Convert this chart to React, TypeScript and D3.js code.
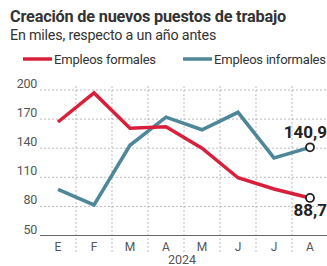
import React, { useEffect, useRef } from "react";
import * as d3 from "d3";

const months = ["E", "F", "M", "A", "M", "J", "J", "A"];
const formales = [167, 197, 160.5, 162, 140, 109.5, 98, 88.7];
const informales = [97.5, 81.5, 143, 172, 159, 177, 130, 140.9];
const yTicks = [50, 80, 110, 140, 170, 200];
const lastLabels = ["88,7", "140,9"];

const RED = "#d8203d";
const BLUE = "#4f8799";
const TEXT = "#333";

const App = () => {
  const ref = useRef<SVGSVGElement>(null);

  useEffect(() => {
    const width = 327;
    const svg = d3.select(ref.current);
    svg.selectAll("*").remove();

    const font = "Roboto, 'Noto Sans', sans-serif";

    // Title and subtitle
    svg
      .append("text")
      .attr("x", 10)
      .attr("y", 22)
      .attr("font-family", font)
      .attr("font-weight", 700)
      .attr("font-size", 16.3)
      .attr("fill", TEXT)
      .attr("letter-spacing", -0.2)
      .text("Creación de nuevos puestos de trabajo");

    svg
      .append("text")
      .attr("x", 10)
      .attr("y", 40)
      .attr("font-family", font)
      .attr("font-size", 14.3)
      .attr("fill", TEXT)
      .attr("letter-spacing", -0.2)
      .text("En miles, respecto a un año antes");

    // Legend
    const legend = [
      { label: "Empleos formales", color: RED, x: 23 },
      { label: "Empleos informales", color: BLUE, x: 183 },
    ];
    legend.forEach((d) => {
      svg
        .append("line")
        .attr("x1", d.x)
        .attr("x2", d.x + 29)
        .attr("y1", 59)
        .attr("y2", 59)
        .attr("stroke", d.color)
        .attr("stroke-width", 3.5);
      svg
        .append("text")
        .attr("x", d.x + 31)
        .attr("y", 63.5)
        .attr("font-family", font)
        .attr("font-size", 13)
        .attr("fill", TEXT)
        .attr("letter-spacing", -0.2)
        .text(d.label);
    });

    const x = d3
      .scaleBand<number>()
      .domain(d3.range(months.length))
      .range([40, 328]);
    const y = d3.scaleLinear().domain([50, 200]).range([235.5, 90]);
    const cx = (i: number) => (x(i) ?? 0) + x.bandwidth() / 2;

    // Horizontal grid
    svg
      .append("g")
      .selectAll("line")
      .data(yTicks.filter((t) => t > 50))
      .join("line")
      .attr("x1", 40)
      .attr("x2", width)
      .attr("y1", (d) => y(d))
      .attr("y2", (d) => y(d))
      .attr("stroke", "#aaa")
      .attr("stroke-width", 0.8)
      .attr("stroke-dasharray", "2,2");

    // Vertical grid between months
    svg
      .append("g")
      .selectAll("line")
      .data(d3.range(1, months.length))
      .join("line")
      .attr("x1", (i) => x(i) ?? 0)
      .attr("x2", (i) => x(i) ?? 0)
      .attr("y1", y(200) - 4)
      .attr("y2", 252)
      .attr("stroke", "#aaa")
      .attr("stroke-width", 0.8)
      .attr("stroke-dasharray", "2,2");

    // Baseline
    svg
      .append("line")
      .attr("x1", 40)
      .attr("x2", width)
      .attr("y1", y(50))
      .attr("y2", y(50))
      .attr("stroke", "#666")
      .attr("stroke-width", 1.2);

    // Y labels
    svg
      .append("g")
      .selectAll("text")
      .data(yTicks)
      .join("text")
      .attr("x", 37)
      .attr("y", (d) => y(d) - 2)
      .attr("text-anchor", "end")
      .attr("font-family", font)
      .attr("font-size", 12.5)
      .attr("fill", "#555")
      .attr("letter-spacing", -0.3)
      .text((d) => d);

    // X labels
    svg
      .append("g")
      .selectAll("text")
      .data(months)
      .join("text")
      .attr("x", (_, i) => cx(i))
      .attr("y", 251)
      .attr("text-anchor", "middle")
      .attr("font-family", font)
      .attr("font-size", 12)
      .attr("fill", "#555")
      .text((d) => d);

    svg
      .append("text")
      .attr("x", (x(4) ?? 0) - 2)
      .attr("y", 264)
      .attr("text-anchor", "middle")
      .attr("font-family", font)
      .attr("font-size", 12.5)
      .attr("fill", "#555")
      .text("2024");

    const line = d3
      .line<number>()
      .x((_, i) => cx(i))
      .y((d) => y(d));

    [
      { data: informales, color: BLUE },
      { data: formales, color: RED },
    ].forEach((s) => {
      svg
        .append("path")
        .datum(s.data)
        .attr("d", line)
        .attr("fill", "none")
        .attr("stroke", s.color)
        .attr("stroke-width", 3.5)
        .attr("stroke-linejoin", "miter");
    });

    // End markers
    const last = months.length - 1;
    [formales, informales].forEach((s, k) => {
      svg
        .append("circle")
        .attr("cx", cx(last))
        .attr("cy", y(s[last]))
        .attr("r", 4)
        .attr("fill", "#fff")
        .attr("stroke", "#222")
        .attr("stroke-width", 1.8);
      svg
        .append("text")
        .attr("x", width)
        .attr("y", k === 0 ? y(s[last]) + 18 : y(s[last]) - 9)
        .attr("text-anchor", "end")
        .attr("font-family", font)
        .attr("font-weight", 700)
        .attr("font-size", 17)
        .attr("fill", "#222")
        .text(lastLabels[k]);
    });
  }, []);

  return (
    <div style={{ position: "absolute", left: 0, top: 0 }}>
      <svg ref={ref} width={327} height={266} style={{ display: "block", background: "#fff" }} />
    </div>
  );
};

export default App;
